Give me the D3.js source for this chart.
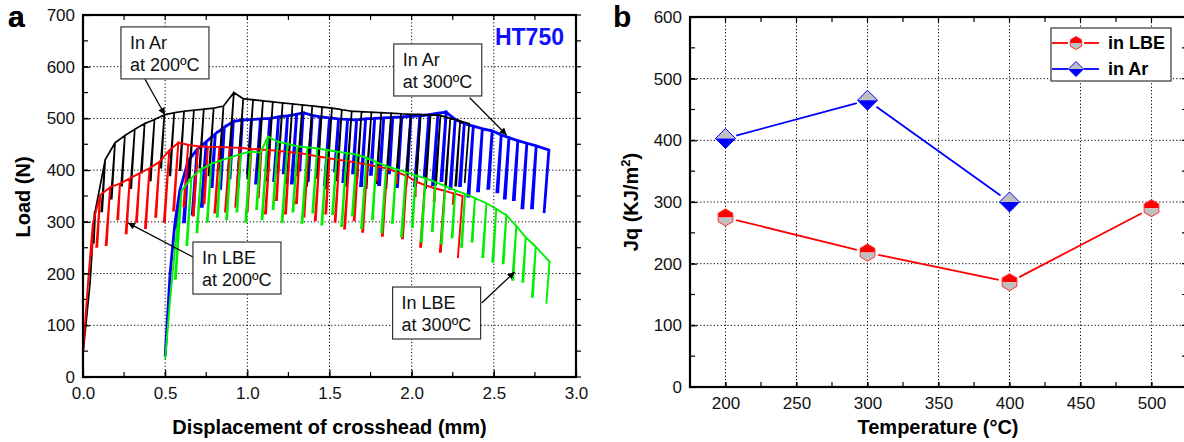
<!DOCTYPE html>
<html>
<head>
<meta charset="utf-8">
<script src="https://cdn.jsdelivr.net/npm/d3@7"></script>
<style>
  body { margin: 0; background: #fff; }
  svg { display: block; font-family: "Liberation Sans", Arial, sans-serif; }
</style>
</head>
<body>
<svg id="chart" width="1184" height="442"></svg>
<script>
// ---- panel a : load vs displacement, cycles are [displacement, peak load, unload low] ----
var rampAr200 = [[0.0, 45], [0.043, 182], [0.07, 318]];
var cyclesAr200 = [
  [0.075, 322, 260], [0.135, 420, 320], [0.195, 453, 345], [0.255, 467, 370], [0.315, 479, 365],
  [0.375, 490, 395], [0.435, 498, 380], [0.495, 507, 405], [0.555, 511, 390], [0.615, 514, 400],
  [0.675, 516, 385], [0.735, 518, 405], [0.795, 520, 390], [0.855, 524, 400], [0.918, 550, 395],
  [0.975, 538, 405], [1.035, 536, 385], [1.095, 534, 400], [1.155, 532, 380], [1.215, 530, 395],
  [1.275, 528, 375], [1.335, 526, 390], [1.395, 524, 370], [1.455, 522, 385], [1.515, 520, 365],
  [1.575, 517, 380], [1.635, 514, 370], [1.695, 513, 385], [1.755, 512, 365], [1.815, 511, 375],
  [1.875, 510, 365], [1.935, 509, 380], [1.995, 508, 370], [2.055, 508, 375], [2.115, 507, 365],
  [2.175, 506, 372], [2.235, 500, 368], [2.295, 495, 370], [2.350, 490, 375]
];

var rampLBE200 = [[0.0, 46], [0.03, 180], [0.058, 290]];
var cyclesLBE200 = [
  [0.062, 300, 235], [0.105, 352, 252], [0.165, 367, 255], [0.225, 374, 305], [0.285, 384, 278],
  [0.345, 394, 300], [0.405, 404, 288], [0.465, 416, 310], [0.525, 438, 300], [0.580, 453, 322],
  [0.640, 449, 330], [0.700, 446, 312], [0.760, 445, 336], [0.830, 445, 318], [0.894, 444, 320],
  [0.954, 443, 329], [1.025, 441, 320], [1.086, 440, 348], [1.137, 439, 316], [1.197, 437, 342],
  [1.258, 435, 316], [1.319, 433, 336], [1.370, 430, 310], [1.440, 426, 303], [1.500, 423, 316],
  [1.560, 420, 300], [1.620, 417, 287], [1.674, 414, 303], [1.730, 411, 281], [1.790, 407, 380],
  [1.850, 403, 273], [1.910, 396, 375], [1.970, 389, 268], [2.025, 378, 350], [2.080, 371, 252],
  [2.140, 365, 340], [2.200, 360, 242], [2.255, 355, 335], [2.310, 350, 230]
];

var rampAr300 = [[0.5, 40], [0.53, 200], [0.56, 300]];
var cyclesAr300 = [
  [0.590, 362, 290], [0.640, 418, 300], [0.695, 440, 315], [0.750, 455, 330], [0.805, 470, 368],
  [0.860, 483, 365], [0.915, 494, 385], [0.970, 497, 370], [1.025, 498, 395], [1.080, 499, 375],
  [1.137, 500, 400], [1.190, 503, 380], [1.245, 505, 395], [1.300, 508, 375], [1.340, 511, 400],
  [1.395, 506, 380], [1.445, 503, 395], [1.500, 501, 372], [1.555, 499, 398], [1.610, 498, 378],
  [1.665, 497, 395], [1.720, 499, 370], [1.775, 500, 392], [1.830, 501, 372], [1.885, 502, 395],
  [1.940, 503, 368], [1.995, 504, 390], [2.050, 505, 370], [2.105, 507, 388], [2.160, 510, 372],
  [2.210, 512, 380], [2.265, 498, 365], [2.320, 490, 370], [2.375, 485, 350], [2.430, 480, 360],
  [2.490, 476, 365], [2.545, 468, 358], [2.592, 463, 346], [2.646, 457, 343], [2.701, 452, 327],
  [2.758, 447, 327], [2.835, 439, 317]
];

var rampLBE300 = [[0.5, 35], [0.53, 150], [0.56, 250]];
var cyclesLBE300 = [
  [0.600, 360, 190], [0.660, 385, 255], [0.720, 402, 280], [0.780, 412, 300], [0.840, 419, 310],
  [0.900, 425, 305], [0.960, 431, 320], [1.020, 436, 300], [1.080, 434, 325], [1.125, 465, 305],
  [1.185, 455, 325], [1.245, 451, 300], [1.305, 446, 320], [1.365, 444, 298], [1.425, 442, 318],
  [1.485, 439, 295], [1.545, 436, 315], [1.605, 433, 292], [1.665, 430, 312], [1.725, 424, 288],
  [1.785, 416, 305], [1.845, 408, 280], [1.905, 402, 298], [1.965, 396, 272], [2.025, 390, 290],
  [2.085, 384, 262], [2.145, 377, 282], [2.205, 369, 258], [2.265, 361, 270], [2.325, 354, 252],
  [2.385, 346, 262], [2.455, 336, 232], [2.515, 325, 223], [2.576, 313, 220], [2.637, 292, 188],
  [2.694, 270, 184], [2.755, 252, 155], [2.839, 223, 142]
];

var xTicksA = [0, 0.5, 1.0, 1.5, 2.0, 2.5, 3.0];
var yTicksA = [0, 100, 200, 300, 400, 500, 600, 700];

// ---- panel b : Jq vs temperature ----
var tempsLBE = [200, 300, 400, 500];
var jqLBE = [275, 218, 170, 290];
var tempsAr = [200, 300, 400];
var jqAr = [403, 465, 300];
var xTicksB = [200, 250, 300, 350, 400, 450, 500];
var yTicksB = [0, 100, 200, 300, 400, 500, 600];

var svg = d3.select("#chart");
var font = "'Liberation Sans', Arial, sans-serif";

// arrow head for the annotations
svg.append("defs").append("marker")
    .attr("id", "arrowhead")
    .attr("viewBox", "0 0 10 10")
    .attr("refX", 10).attr("refY", 5)
    .attr("markerWidth", 10).attr("markerHeight", 7)
    .attr("markerUnits", "userSpaceOnUse")
    .attr("orient", "auto")
    .append("path").attr("d", "M0,0 L10,5 L0,10 Z").attr("fill", "#000");

function drawFrame(g, x, y, xMinor, yMinor, xGrid, yGrid, rightTicksOut) {
    var x0 = x.range()[0], x1 = x.range()[1], y0 = y.range()[0], y1 = y.range()[1];

    // dotted grid
    g.selectAll(".gx").data(xGrid).enter().append("line")
        .attr("x1", d => x(d)).attr("x2", d => x(d)).attr("y1", y0).attr("y2", y1)
        .attr("stroke", "#000").attr("stroke-width", 1).attr("stroke-dasharray", "1.2,2.2");
    g.selectAll(".gy").data(yGrid).enter().append("line")
        .attr("y1", d => y(d)).attr("y2", d => y(d)).attr("x1", x0).attr("x2", x1)
        .attr("stroke", "#000").attr("stroke-width", 1).attr("stroke-dasharray", "1.2,2.2");

    // minor ticks on every side
    var t = g.append("g").attr("stroke", "#000").attr("stroke-width", 1.2);
    xMinor.forEach(function(d) {
        t.append("line").attr("x1", x(d)).attr("x2", x(d)).attr("y1", y0).attr("y2", y0 - 5);
        t.append("line").attr("x1", x(d)).attr("x2", x(d)).attr("y1", y1).attr("y2", y1 + 5);
    });
    yMinor.forEach(function(d) {
        t.append("line").attr("y1", y(d)).attr("y2", y(d)).attr("x1", x0).attr("x2", x0 + 5);
        t.append("line").attr("y1", y(d)).attr("y2", y(d)).attr("x1", x1).attr("x2", rightTicksOut ? x1 + 5 : x1 - 5);
    });
}

function styleAxis(a) {
    a.select(".domain").remove();
    a.selectAll(".tick line").attr("stroke", "#000").attr("stroke-width", 1.2);
    a.selectAll("text").attr("font-size", 17).attr("font-family", font).attr("fill", "#111");
}

// ================= panel a =================
var xA = d3.scaleLinear().domain([0, 3]).range([83, 576]);
var yA = d3.scaleLinear().domain([0, 700]).range([377, 15]);
var gA = svg.append("g");

drawFrame(gA, xA, yA, d3.range(0, 3.01, 0.25), d3.range(0, 701, 50),
    xTicksA.slice(1, -1), yTicksA.slice(1, -1), true);

var compliance = 0.00024; // mm per N, slope of the unloading lines
var loopWidth = 0.006;    // small gap between unloading and reloading branch

function cyclePoints(ramp, cycles) {
    var pts = ramp.slice();
    cycles.forEach(function(c, i) {
        var xl = c[0] - (c[1] - c[2]) * compliance;
        pts.push([c[0], c[1]]);
        pts.push([xl, c[2]]);
        if (i < cycles.length - 1) {
            pts.push([xl + loopWidth, c[2]]);
            pts.push([c[0], c[1]]);
        }
    });
    return pts;
}

var lineA = d3.line().x(d => xA(d[0])).y(d => yA(d[1]));
var curves = [
    { ramp: rampAr300, cycles: cyclesAr300, color: "#0000ff", w: 2.8 },
    { ramp: rampAr200, cycles: cyclesAr200, color: "#000000", w: 1.7 },
    { ramp: rampLBE200, cycles: cyclesLBE200, color: "#ff0000", w: 1.9 },
    { ramp: rampLBE300, cycles: cyclesLBE300, color: "#00ee00", w: 1.9 }
];
gA.selectAll(".curve").data(curves).enter().append("path")
    .attr("class", "curve")
    .attr("d", d => lineA(cyclePoints(d.ramp, d.cycles)))
    .attr("fill", "none")
    .attr("stroke", d => d.color)
    .attr("stroke-width", d => d.w)
    .attr("stroke-linejoin", "miter")
    .attr("stroke-miterlimit", 3);

var axA1 = gA.append("g").attr("transform", "translate(0,377)")
    .call(d3.axisBottom(xA).tickValues(xTicksA).tickFormat(d3.format(".1f")).tickSize(-7).tickPadding(10));
styleAxis(axA1);
var axA2 = gA.append("g").attr("transform", "translate(83,0)")
    .call(d3.axisLeft(yA).tickValues(yTicksA).tickFormat(d3.format("d")).tickSize(-7).tickPadding(8));
styleAxis(axA2);

gA.append("rect").attr("x", 83).attr("y", 15).attr("width", 493).attr("height", 362)
    .attr("fill", "none").attr("stroke", "#000").attr("stroke-width", 2.2);

// annotations (boxes are placed in data units, box size in px)
var notesA = [
    { lines: ["In Ar", "at 200ºC"], box: [0.231, 677], from: [0.377, 576], to: [0.498, 507] },
    { lines: ["In Ar", "at 300ºC"], box: [1.891, 644], from: [2.353, 540], to: [2.578, 468] },
    { lines: ["In LBE", "at 200ºC"], box: [0.669, 261], from: [0.669, 232], to: [0.274, 298] },
    { lines: ["In LBE", "at 300ºC"], box: [1.884, 174], from: [2.426, 143], to: [2.626, 203] }
];
notesA.forEach(function(n) {
    gA.append("line")
        .attr("x1", xA(n.from[0])).attr("y1", yA(n.from[1]))
        .attr("x2", xA(n.to[0])).attr("y2", yA(n.to[1]))
        .attr("stroke", "#000").attr("stroke-width", 1.2)
        .attr("marker-end", "url(#arrowhead)");
    var bx = xA(n.box[0]), by = yA(n.box[1]);
    gA.append("rect").attr("x", bx).attr("y", by).attr("width", 88).attr("height", 52)
        .attr("fill", "#fff").attr("stroke", "#333").attr("stroke-width", 1.2);
    gA.append("text").attr("x", bx + 9).attr("y", by + 22)
        .attr("font-size", 18).attr("fill", "#111").text(n.lines[0]);
    gA.append("text").attr("x", bx + 9).attr("y", by + 44)
        .attr("font-size", 18).attr("fill", "#111").text(n.lines[1]);
});

gA.append("text").attr("x", 564).attr("y", 45).attr("text-anchor", "end")
    .attr("font-size", 23).attr("font-weight", "bold").attr("fill", "#1010ff").text("HT750");

gA.append("text").attr("x", 329.5).attr("y", 434).attr("text-anchor", "middle")
    .attr("font-size", 20).attr("font-weight", "bold").text("Displacement of crosshead (mm)");
gA.append("text").attr("transform", "translate(30,197) rotate(-90)").attr("text-anchor", "middle")
    .attr("font-size", 20).attr("font-weight", "bold").text("Load (N)");
svg.append("text").attr("x", 8).attr("y", 27).attr("font-size", 30).attr("font-weight", "bold").text("a");

// ================= panel b =================
var xB = d3.scaleLinear().domain([175, 525]).range([690, 1187]);
var yB = d3.scaleLinear().domain([0, 600]).range([387, 17]);
var gB = svg.append("g");

drawFrame(gB, xB, yB, d3.range(175, 526, 25), d3.range(0, 601, 50),
    xTicksB, yTicksB.slice(1, -1), false);

var axB1 = gB.append("g").attr("transform", "translate(0,387)")
    .call(d3.axisBottom(xB).tickValues(xTicksB).tickFormat(d3.format("d")).tickSize(-5).tickPadding(10));
styleAxis(axB1);
var axB2 = gB.append("g").attr("transform", "translate(690,0)")
    .call(d3.axisLeft(yB).tickValues(yTicksB).tickFormat(d3.format("d")).tickSize(-7).tickPadding(8));
styleAxis(axB2);

gB.append("rect").attr("x", 690).attr("y", 17).attr("width", 497).attr("height", 370)
    .attr("fill", "none").attr("stroke", "#000").attr("stroke-width", 2.2);

function hexHalves(r) {
    var c = r * Math.cos(Math.PI / 6), h = r / 2;
    return {
        top: "M0," + (-r) + "L" + c + "," + (-h) + "L" + c + ",0L" + (-c) + ",0L" + (-c) + "," + (-h) + "Z",
        bottom: "M" + c + ",0L" + c + "," + h + "L0," + r + "L" + (-c) + "," + h + "L" + (-c) + ",0Z",
        outline: "M0," + (-r) + "L" + c + "," + (-h) + "L" + c + "," + h + "L0," + r + "L" + (-c) + "," + h + "L" + (-c) + "," + (-h) + "Z"
    };
}
function diamondHalves(r) {
    return {
        top: "M0," + (-r) + "L" + r + ",0L" + (-r) + ",0Z",
        bottom: "M" + r + ",0L0," + r + "L" + (-r) + ",0Z",
        outline: "M0," + (-r) + "L" + r + ",0L0," + r + "L" + (-r) + ",0Z"
    };
}
function drawMarker(g, cx, cy, shape, topFill, bottomFill, stroke) {
    var m = g.append("g").attr("transform", "translate(" + cx + "," + cy + ")");
    m.append("path").attr("d", shape.top).attr("fill", topFill);
    m.append("path").attr("d", shape.bottom).attr("fill", bottomFill);
    m.append("path").attr("d", shape.outline).attr("fill", "none").attr("stroke", stroke).attr("stroke-width", 1);
}

var seriesB = [
    { xs: tempsLBE, ys: jqLBE, color: "#ff0000", shape: hexHalves(8.5), lshape: hexHalves(6.5),
      top: "#ff0000", bottom: "#c0c0c0", stroke: "#ff3030", name: "in LBE" },
    { xs: tempsAr, ys: jqAr, color: "#0000ff", shape: diamondHalves(10), lshape: diamondHalves(7.5),
      top: "#c0c0c0", bottom: "#0000ff", stroke: "#0000ff", name: "in Ar" }
];
var gap = 11;
seriesB.forEach(function(s) {
    var pts = s.xs.map((t, i) => [xB(t), yB(s.ys[i])]);
    for (var i = 0; i < pts.length - 1; i++) {
        var p = pts[i], q = pts[i + 1];
        var dx = q[0] - p[0], dy = q[1] - p[1], len = Math.sqrt(dx * dx + dy * dy);
        gB.append("line")
            .attr("x1", p[0] + dx / len * gap).attr("y1", p[1] + dy / len * gap)
            .attr("x2", q[0] - dx / len * gap).attr("y2", q[1] - dy / len * gap)
            .attr("stroke", s.color).attr("stroke-width", 1.8);
    }
    pts.forEach(p => drawMarker(gB, p[0], p[1], s.shape, s.top, s.bottom, s.stroke));
});

// legend
var lg = gB.append("g");
lg.append("rect").attr("x", 1051).attr("y", 28).attr("width", 120).attr("height", 53)
    .attr("fill", "#fff").attr("stroke", "#333").attr("stroke-width", 1.2);
seriesB.forEach(function(s, i) {
    var ly = 43 + i * 26;
    lg.append("line").attr("x1", 1052).attr("x2", 1068).attr("y1", ly).attr("y2", ly)
        .attr("stroke", s.color).attr("stroke-width", 1.8);
    lg.append("line").attr("x1", 1084).attr("x2", 1099).attr("y1", ly).attr("y2", ly)
        .attr("stroke", s.color).attr("stroke-width", 1.8);
    drawMarker(lg, 1076, ly, s.lshape, s.top, s.bottom, s.stroke);
    lg.append("text").attr("x", 1108).attr("y", ly + 6).attr("font-size", 18)
        .attr("font-weight", "bold").text(s.name);
});

gB.append("text").attr("x", 938).attr("y", 434).attr("text-anchor", "middle")
    .attr("font-size", 20).attr("font-weight", "bold").text("Temperature (°C)");
var yl = gB.append("text").attr("transform", "translate(638,202) rotate(-90)").attr("text-anchor", "middle")
    .attr("font-size", 20).attr("font-weight", "bold");
yl.append("tspan").text("Jq  (KJ/m");
yl.append("tspan").attr("font-size", 13).attr("dy", -8).text("2");
yl.append("tspan").attr("dy", 8).text(")");
svg.append("text").attr("x", 8).attr("y", 27).attr("font-size", 30).attr("font-weight", "bold").text("a");
svg.append("text").attr("x", 613).attr("y", 27).attr("font-size", 30).attr("font-weight", "bold").text("b");
</script>
</body>
</html>
